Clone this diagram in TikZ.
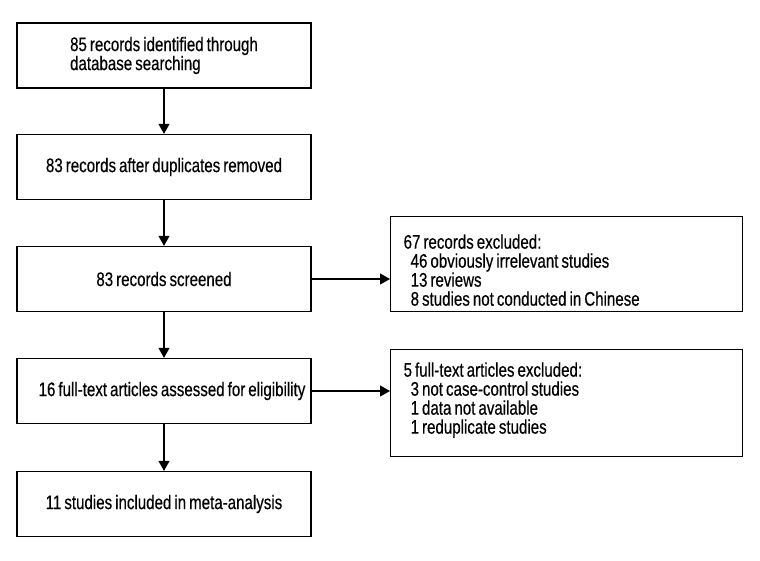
\documentclass[tikz,border=0pt]{standalone}
\usepackage{fontspec}
\setmainfont{Liberation Sans}[FakeStretch=0.77,WordSpace={0.72,0,0},FakeBold=0.4]
\usetikzlibrary{arrows.meta}
\tikzset{
  stage/.style={draw, line width=1.3pt, minimum width=294pt, minimum height=65pt, inner sep=0pt, align=left},
  excl/.style={draw, line width=1.3pt, anchor=north west, text width=326pt, inner xsep=13pt, inner ysep=0pt, align=flush left},
  flow/.style={line width=1.2pt, -{Triangle[length=10pt,width=11pt]}}
}
\newcommand{\ind}{\hspace*{7pt}}
\begin{document}
\begin{tikzpicture}[x=1pt,y=-1pt,font=\fontsize{19.6}{19}\selectfont]
\useasboundingbox (0,0) rectangle (760,560);
% main flow
\node[stage] (ident) at (164,55.5) {85 records identified through\\database searching};
\node[stage] (dupl) at (164,167) {83 records after duplicates removed};
\node[stage] (scr) at (164,279) {83 records screened};
\node[stage] (full) at (164,391) {\hspace*{16pt}16 full-text articles assessed for eligibility};
\node[stage] (incl) at (164,504) {11 studies included in meta-analysis};
% exclusions
\node[excl, text height=32pt, text depth=63pt] (recex) at (390,216) {67 records excluded:\\\ind 46 obviously irrelevant studies\\\ind 13 reviews\\\ind 8 studies not conducted in Chinese};
\node[excl, text height=27pt, text depth=80pt] (fullex) at (390,349) {5 full-text articles excluded:\\\ind 3 not case-control studies\\\ind 1 data not available\\\ind 1 reduplicate studies};
% arrows
\draw[flow] (ident) -- (dupl);
\draw[flow] (dupl) -- (scr);
\draw[flow] (scr) -- (full);
\draw[flow] (full) -- (incl);
\draw[flow] (scr.east) -- (scr.east -| recex.west);
\draw[flow] (full.east) -- (full.east -| fullex.west);
\end{tikzpicture}
\end{document}
